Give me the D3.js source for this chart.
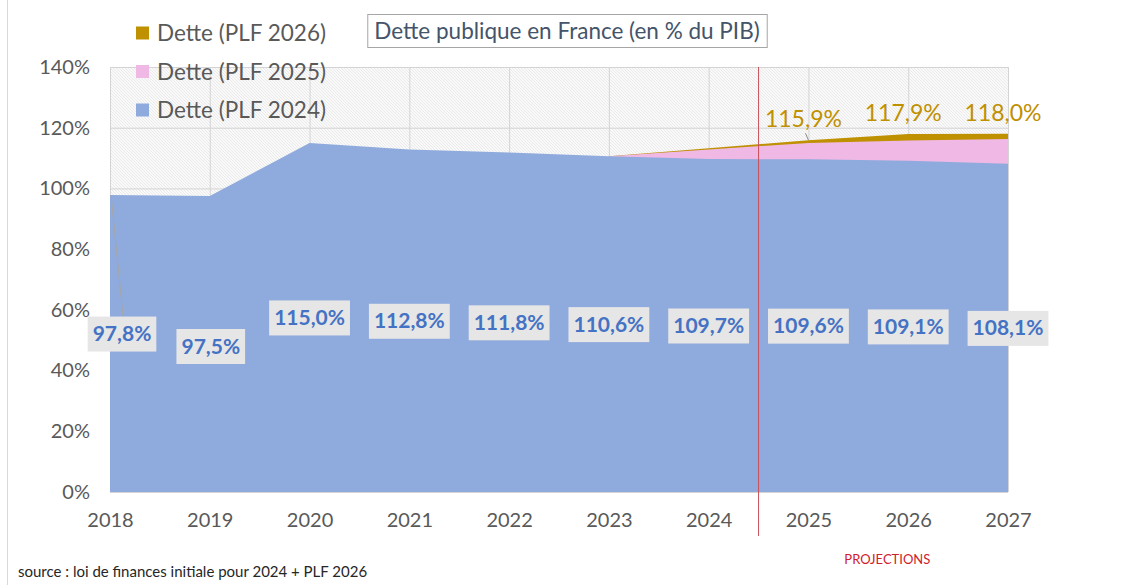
<!DOCTYPE html>
<html>
<head>
<meta charset="utf-8">
<script src="https://cdn.jsdelivr.net/npm/d3@7"></script>
<style>
body{margin:0;background:#fff;}
svg{display:block;font-family:Lato, "Open Sans", sans-serif;}
.axisTxt text{fill:#595959;font-size:20px;}
</style>
</head>
<body>
<svg id="chart" width="1121" height="585"></svg>
<script>
var years = [2018, 2019, 2020, 2021, 2022, 2023, 2024, 2025, 2026, 2027];
var dettePlf2024 = [97.8, 97.5, 115.0, 112.8, 111.8, 110.6, 109.7, 109.6, 109.1, 108.1];

var projYears = [2023, 2024, 2025, 2026, 2027];
var dettePlf2025 = [110.6, 112.8, 115.0, 115.8, 116.3];
var dettePlf2026 = [110.6, 113.2, 115.9, 117.9, 118.0];

var labelYears2026 = [2025, 2026, 2027];
var labels2026 = [115.9, 117.9, 118.0];

var yTicks = [0, 20, 40, 60, 80, 100, 120, 140];
var seriesNames = ["Dette (PLF 2026)", "Dette (PLF 2025)", "Dette (PLF 2024)"];

var titleText = "Dette publique en France (en % du PIB)";
var sourceText = "source : loi de finances initiale pour 2024 + PLF 2026";

var colors = {plf2026: "#BF9000", plf2025: "#EFB8E5", plf2024: "#8FAADC"};
var legendColors = [colors.plf2026, colors.plf2025, colors.plf2024];

var svg = d3.select("#chart");

var x = d3.scaleLinear().domain([2018, 2027]).range([110, 1008]);
var y = d3.scaleLinear().domain([0, 140]).range([492, 67]);

var fmt = function(v){ return d3.format(".1f")(v).replace(".", ",") + "%"; };

// hatch pattern for the plot background
var defs = svg.append("defs");
var pat = defs.append("pattern")
  .attr("id", "hatch")
  .attr("width", 3).attr("height", 3)
  .attr("patternUnits", "userSpaceOnUse");
pat.append("rect").attr("width", 3).attr("height", 3).attr("fill", "#f9f9f9");
pat.append("path")
  .attr("d", "M0,0 l3,3 M-1,2 l2,2 M2,-1 l2,2")
  .attr("stroke", "#e4e4e4").attr("stroke-width", 0.7);

// outer left border
svg.append("line")
  .attr("x1", 7.5).attr("x2", 7.5).attr("y1", 0).attr("y2", 585)
  .attr("stroke", "#d9d9d9");

svg.append("rect")
  .attr("x", x(2018)).attr("y", y(140))
  .attr("width", x(2027) - x(2018)).attr("height", y(0) - y(140))
  .attr("fill", "url(#hatch)");

// grid
var grid = svg.append("g");
grid.selectAll(".hg").data(yTicks).enter().append("line")
  .attr("x1", x(2018)).attr("x2", x(2027))
  .attr("y1", function(d){ return y(d) + 0.5; })
  .attr("y2", function(d){ return y(d) + 0.5; })
  .attr("stroke", "#d4d4d4");
grid.selectAll(".vg").data(years).enter().append("line")
  .attr("x1", function(d){ return x(d) + 0.5; })
  .attr("x2", function(d){ return x(d) + 0.5; })
  .attr("y1", y(140)).attr("y2", y(0))
  .attr("stroke", "#d4d4d4");

// areas
var area = d3.area()
  .x(function(d){ return x(d[0]); })
  .y0(y(0))
  .y1(function(d){ return y(d[1]); });

svg.append("path")
  .datum(d3.zip(projYears, dettePlf2026))
  .attr("d", area)
  .attr("fill", colors.plf2026);

svg.append("path")
  .datum(d3.zip(projYears, dettePlf2025))
  .attr("d", area)
  .attr("fill", colors.plf2025);

svg.append("path")
  .datum(d3.zip(years, dettePlf2024))
  .attr("d", area)
  .attr("fill", colors.plf2024);

// axes
var yAxis = svg.append("g")
  .attr("class", "axisTxt")
  .attr("transform", "translate(90,0)")
  .call(d3.axisLeft(y).tickValues(yTicks).tickSize(0).tickPadding(0)
    .tickFormat(function(d){ return d + "%"; }));
yAxis.select(".domain").remove();
yAxis.selectAll("text").style("font-family", "Lato");

var xAxis = svg.append("g")
  .attr("class", "axisTxt")
  .attr("transform", "translate(0," + y(0) + ")")
  .call(d3.axisBottom(x).tickValues(years).tickSize(0).tickPadding(21)
    .tickFormat(d3.format("d")));
xAxis.select(".domain").remove();
xAxis.selectAll("text").style("font-family", "Lato");

// projections marker
var splitX = (x(2024) + x(2025)) / 2;
svg.append("line")
  .attr("x1", splitX).attr("x2", splitX)
  .attr("y1", y(140)).attr("y2", 536)
  .attr("stroke", "#C8505A").attr("stroke-width", 1);

svg.append("text")
  .attr("x", (x(2025) + x(2026)) / 2 + 29).attr("y", 564)
  .attr("text-anchor", "middle")
  .attr("fill", "#D0202E")
  .style("font-size", "13px")
  .text("PROJECTIONS");

// leader lines
svg.append("line")
  .attr("x1", x(2018) + 1).attr("y1", y(dettePlf2024[0]))
  .attr("x2", x(2018) + 13).attr("y2", 316)
  .attr("stroke", "#a6a6a6");
svg.append("line")
  .attr("x1", x(2025) - 3).attr("y1", y(labels2026[0]) - 7)
  .attr("x2", x(2025)).attr("y2", y(labels2026[0]))
  .attr("stroke", "#8c8c8c");

// blue data labels
var nudge = {2018: [12, -10], 2019: [1, 2]};
var lbl = svg.selectAll(".lbl").data(d3.zip(years, dettePlf2024)).enter()
  .append("g")
  .attr("transform", function(d){
    var n = nudge[d[0]] || [0, 0];
    return "translate(" + (x(d[0]) + n[0]) + "," + (y(d[1] / 2) + n[1]) + ")";
  });
lbl.append("rect").attr("fill", "#e6e6e6");
lbl.append("text")
  .attr("text-anchor", "middle")
  .attr("dy", "0.36em")
  .attr("fill", "#4472C4")
  .style("font-size", "21px")
  .style("font-weight", "bold")
  .text(function(d){ return fmt(d[1]); });
lbl.each(function(){
  var g = d3.select(this);
  var w = g.select("text").node().getComputedTextLength() + 10;
  g.select("rect").attr("x", -w / 2).attr("y", -17).attr("width", w).attr("height", 35);
});

// gold labels
svg.selectAll(".glbl").data(d3.zip(labelYears2026, labels2026)).enter()
  .append("text")
  .attr("x", function(d){ return x(d[0]) - 5; })
  .attr("y", function(d){ return y(d[1]) - 13; })
  .attr("text-anchor", "middle")
  .attr("fill", "#BF9000")
  .style("font-size", "23px")
  .text(function(d){ return fmt(d[1]); });

// legend
var leg = svg.selectAll(".leg").data(seriesNames).enter()
  .append("g")
  .attr("transform", function(d, i){ return "translate(136," + (33 + i * 38.5) + ")"; });
leg.append("rect")
  .attr("x", 0).attr("y", -6.5).attr("width", 13).attr("height", 13)
  .attr("fill", function(d, i){ return legendColors[i]; });
leg.append("text")
  .attr("x", 21).attr("dy", "0.36em")
  .attr("fill", "#595959")
  .style("font-size", "22.5px")
  .text(function(d){ return d; });

// title box
var tg = svg.append("g");
var tRect = tg.append("rect").attr("fill", "#fff").attr("stroke", "#a6a6a6");
var tTxt = tg.append("text")
  .attr("x", 567).attr("y", 31).attr("dy", "0.36em")
  .attr("text-anchor", "middle")
  .attr("fill", "#44546A")
  .style("font-size", "22.5px")
  .text(titleText);
var tw = tTxt.node().getComputedTextLength() + 14;
tRect.attr("x", 567 - tw / 2 + 0.5).attr("y", 14.5).attr("width", tw).attr("height", 33);

svg.append("text")
  .attr("x", 18).attr("y", 577)
  .attr("fill", "#262626")
  .style("font-size", "15px")
  .text(sourceText);
</script>
</body>
</html>
